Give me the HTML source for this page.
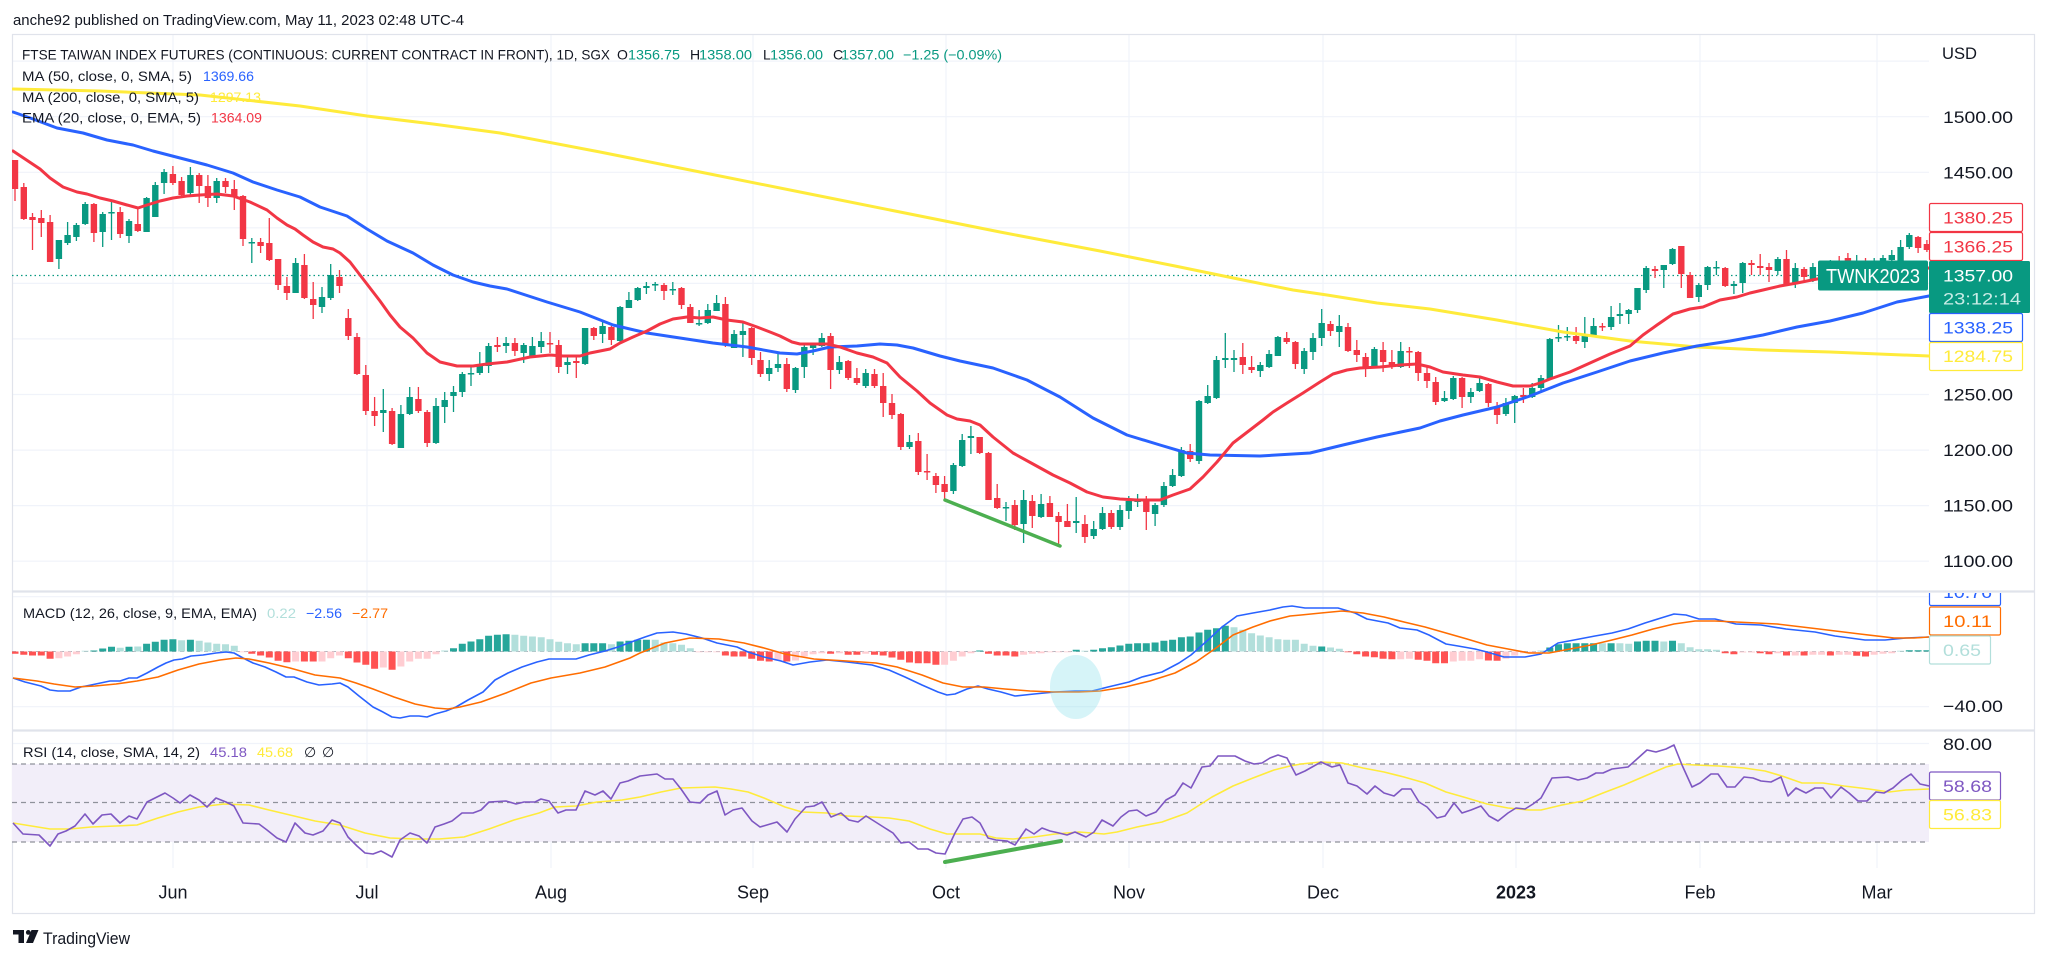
<!DOCTYPE html>
<html><head><meta charset="utf-8"><style>
html,body{margin:0;padding:0;background:#fff;}
svg{display:block;}
text{font-family:"Liberation Sans",Arial,sans-serif;}
</style></head><body>
<svg width="2048" height="959" viewBox="0 0 2048 959" xmlns="http://www.w3.org/2000/svg">
<defs>
<clipPath id="cm"><rect x="12" y="34" width="1917" height="557"/></clipPath>
<clipPath id="cd"><rect x="12" y="592" width="1917" height="138"/></clipPath>
<clipPath id="cr"><rect x="12" y="731" width="1917" height="137"/></clipPath>
<clipPath id="cl"><rect x="1920" y="593" width="120" height="40"/></clipPath>
</defs>
<rect width="2048" height="959" fill="#fff"/>
<text x="13" y="25" font-size="15" fill="#131722" textLength="451" lengthAdjust="spacingAndGlyphs">anche92 published on TradingView.com, May 11, 2023 02:48 UTC-4</text>

<!-- grid -->
<g stroke="#f0f3fa" stroke-width="1.2">
<path d="M12 61.1H1929M12 116.7H1929M12 172.3H1929M12 227.8H1929M12 283.4H1929M12 338.9H1929M12 394.5H1929M12 450.1H1929M12 505.6H1929M12 561.2H1929M12 596.7H1929M12 706.7H1929M12 743.5H1929M12 822H1929"/>
<path d="M173 34V868M367 34V868M551 34V868M753 34V868M946 34V868M1129 34V868M1323 34V868M1516 34V868M1700 34V868M1877 34V868"/>
</g>

<!-- frame -->
<rect x="12.5" y="34.5" width="2022" height="879" fill="none" stroke="#e0e3eb" stroke-width="1.2"/>
<path d="M12 591.5H2035M12 730.5H2035" stroke="#e0e3eb" stroke-width="2.2"/>

<!-- MAIN PANE -->
<g clip-path="url(#cm)">
<path d="M12 275.5H1929" stroke="#089981" stroke-width="1.3" stroke-dasharray="1.5 3"/>
<g fill="none" stroke-linecap="butt">
<path stroke="#089981" stroke-width="1.3" d="M58.9 240V269M67.6 222V245M76.4 223V241M85.2 202V225M102.7 212V247M111.5 201V240M129 219V243M146.6 197V232M155.3 182V217M164.1 169V194M190.4 167V195M216.7 178V203M251.8 238V263M295.6 258V293M322 287V313M330.7 264V300M383.3 389V432M400.9 405V448M409.7 387V415M436 398V444M444.7 392V423M453.5 386V412M462.3 372V397M471 366V386M479.8 352V375M488.6 343V373M506.1 337V353M523.7 343V363M532.4 337V357M541.2 332V353M567.5 357V374M585.1 328V365M602.6 322V343M620.1 306V342M628.9 292V308M637.7 287V301M646.4 282V294M655.2 282V291M672.8 282V295M699.1 310V326M707.8 304V324M716.6 295V311M734.1 330V348M742.9 323V357M769.2 360V381M778 353V372M795.5 367V393M804.3 345V378M813.1 343V355M821.8 333V347M839.4 356V374M865.7 369V388M909.5 435V449M953.4 463V494M962.2 434V467M970.9 426V454M1006 502V521M1023.6 490V543M1041.1 494V518M1076.2 497V533M1093.7 521V539M1102.5 507V530M1120 505V530M1128.8 496V519M1137.6 494V507M1155.1 503V526M1163.9 482V507M1172.6 469V487M1181.4 447V477M1199 400V464M1207.7 385V404M1216.5 356V399M1225.3 333V368M1234 350V372M1260.3 362V377M1269.1 350V368M1277.9 336V356M1304.2 348V374M1313 333V360M1321.7 309V346M1339.3 315V347M1374.4 347V368M1400.7 342V368M1444.5 391V402M1453.3 376V400M1470.8 388V403M1479.6 378V392M1505.9 398V416M1514.7 395V423M1532.2 383V398M1541 375V393M1549.8 338V379M1558.5 325V342M1567.3 327V341M1584.8 317V348M1593.6 318V337M1611.1 306V330M1619.9 303V324M1628.7 309V324M1637.5 288V313M1646.2 266V293M1663.8 265V288M1672.5 248V265M1698.8 283V302M1707.6 266V290M1716.4 261V275M1733.9 281V294M1742.7 262V293M1777.8 257V275M1795.3 263V288M1812.9 263V282M1830.4 260V278M1856.7 255V276M1874.2 258V288M1883 255V270M1891.8 250V266M1900.6 240V262M1909.3 233V249"/>
<path stroke="#089981" stroke-width="6.4" d="M58.9 240V259M67.6 235V243M76.4 225V237M85.2 204V224M102.7 214V232M111.5 212V213.5M129 221V236M146.6 198V232M155.3 185V217M164.1 172V183M190.4 175V193M216.7 181V198M251.8 242V243.5M295.6 263V293M322 297V307M330.7 275V298M383.3 410V413M400.9 414V448M409.7 397V414M436 406V443M444.7 400V407M453.5 392V396M462.3 374V392M471 373V374.5M479.8 366V373M488.6 346V366M506.1 343V346M523.7 345V353M532.4 346V357M541.2 341V347M567.5 362V365M585.1 328V364M602.6 326V334M620.1 307V341M628.9 300V308M637.7 288V300M646.4 286V288M655.2 284V285.5M672.8 289V290.5M699.1 323V324.5M707.8 310V323M716.6 303V311M734.1 334V348M742.9 331V335M769.2 368V374M778 364V368M795.5 368V390M804.3 347V367M813.1 345V348M821.8 338V346M839.4 362V370M865.7 373V386M909.5 442V447M953.4 465V491M962.2 440V466M970.9 436V438M1006 507V508.5M1023.6 500V524M1041.1 504V517M1076.2 521V523M1093.7 529V536M1102.5 513V529M1120 510V527M1128.8 501V511M1137.6 500V502M1155.1 505V514M1163.9 486V505M1172.6 475V486M1181.4 450V476M1199 401V461M1207.7 396V403M1216.5 360V398M1225.3 358V360M1234 358V360M1260.3 365V371M1269.1 354V367M1277.9 337V356M1304.2 351V369M1313 338V352M1321.7 323V338M1339.3 326V332M1374.4 349V367M1400.7 351V367M1444.5 398V401M1453.3 378V399M1470.8 392V397M1479.6 383V391M1505.9 403V414M1514.7 396V403M1532.2 388V397M1541 378V388M1549.8 339V379M1558.5 337V338.5M1567.3 336V337.5M1584.8 336V342M1593.6 326V336M1611.1 317V327M1619.9 314V316M1628.7 310V314M1637.5 288V310M1646.2 268V290M1663.8 265V270M1672.5 249V264M1698.8 285V297M1707.6 267V285M1716.4 267V268.5M1733.9 284V286M1742.7 263V283M1777.8 259V271M1795.3 268V284M1812.9 267V280M1830.4 266V274M1856.7 262V270M1874.2 262V272M1883 258V264M1891.8 255V260M1900.6 247V262M1909.3 235V247"/>
<path stroke="#f23645" stroke-width="1.3" d="M15 160V201M23.8 183V220M32.5 213V250M41.3 210V237M50.1 215V262M93.9 203V242M120.2 207V238M137.8 207V232M172.9 166V185M181.6 177V198M199.2 173V203M207.9 175V207M225.5 178V193M234.3 180V210M243 195V246M260.6 238V253M269.3 218V261M278.1 259V290M286.9 277V300M304.4 254V299M313.2 282V319M339.5 270V293M348.3 309V340M357 333V375M365.8 365V415M374.6 397V426M392.1 408V445M418.4 387V413M427.2 410V447M497.4 337V352M514.9 338V356M550 332V353M558.7 340V373M576.3 355V378M593.8 327V340M611.4 326V345M664 283V300M681.5 287V309M690.3 304V323M725.4 297V347M751.7 327V365M760.5 352V377M786.8 358V392M830.6 333V389M848.2 360V380M856.9 368V385M874.5 369V388M883.2 373V417M892 394V419M900.8 413V450M918.3 433V475M927.1 454V480M935.9 473V493M944.6 476V501M979.7 437V454M988.5 452V500M997.2 484V509M1014.8 500V530M1032.3 495V528M1049.9 496V517M1058.6 512V547M1067.4 504V527M1084.9 515V543M1111.3 510V529M1146.3 496V530M1190.2 444V462M1242.8 343V374M1251.6 356V373M1286.7 332V344M1295.4 341V369M1330.5 321V336M1348 323V352M1356.8 340V362M1365.6 353V377M1383.1 342V372M1391.9 350V369M1409.4 347V368M1418.2 351V381M1427 367V388M1435.7 377V405M1462.1 377V408M1488.4 383V407M1497.1 402V424M1523.4 388V403M1576.1 327V344M1602.4 323V331M1655 266V278M1681.3 246V288M1690.1 272V298M1725.2 267V287M1751.5 260V275M1760.2 254V275M1769 263V282M1786.5 250V285M1804.1 267V282M1821.6 262V280M1839.2 256V275M1847.9 253V272M1865.5 258V278M1918.1 236V253M1926.9 240V252"/>
<path stroke="#f23645" stroke-width="6.4" d="M15 160V189M23.8 187V219M32.5 217V220M41.3 218V223M50.1 222V262M93.9 204V233M120.2 212V234M137.8 224V231M172.9 174V183M181.6 181V195M199.2 175V186M207.9 186V198M225.5 181V187M234.3 189V197M243 196V239M260.6 242V246M269.3 243V260M278.1 259V285M286.9 286V293M304.4 265V298M313.2 299V305M339.5 277V286M348.3 318V336M357 337V374M365.8 375V411M374.6 411V416M392.1 411V444M418.4 399V411M427.2 412V443M497.4 345V347M514.9 343V351M550 343V344.5M558.7 345V367M576.3 361V363M593.8 328V336M611.4 327V340M664 285V291M681.5 288V305M690.3 307V323M725.4 304V344M751.7 328V358M760.5 360V374M786.8 364V389M830.6 336V370M848.2 361V378M856.9 378V383M874.5 374V386M883.2 386V403M892 403V415M900.8 414V447M918.3 441V472M927.1 471V472.5M935.9 476V485M944.6 484V492M979.7 437V453M988.5 453V500M997.2 498V508M1014.8 505V525M1032.3 501V516M1049.9 503V517M1058.6 516V522M1067.4 521V527M1084.9 524V537M1111.3 513V527M1146.3 501V512M1190.2 451V459M1242.8 357V365M1251.6 367V370M1286.7 338V342M1295.4 342V364M1330.5 324V331M1348 327V351M1356.8 350V355M1365.6 357V367M1383.1 350V362M1391.9 362V367M1409.4 351V352.5M1418.2 352V373M1427 373V381M1435.7 382V402M1462.1 378V397M1488.4 384V403M1497.1 407V415M1523.4 395V397M1576.1 336V341M1602.4 326V327.5M1655 269V271M1681.3 246V274M1690.1 275V298M1725.2 268V286M1751.5 263V265M1760.2 266V268M1769 267V270M1786.5 259V284M1804.1 269V277M1821.6 268V276M1839.2 262V270M1847.9 258V266M1865.5 264V272M1918.1 237V248M1926.9 244V250"/>
</g>
<g fill="none" stroke-width="3" stroke-linejoin="round" stroke-linecap="round">
<polyline stroke="#ffeb3b" points="13,89 100,91 200,95 300,106 367,116 433,124 500,133 600,152 700,172 800,192 900,212 1000,232 1100,251 1175,266 1243,280 1293,290 1327,295 1377,303 1430,309 1497,320 1563,332 1630,341 1697,347 1763,350 1830,352 1929,356"/>
<polyline stroke="#2962ff" points="13,112 33,119 57,128 83,133 107,140 133,145 153,151 180,158 207,165 233,173 253,182 277,190 300,197 320,207 347,216 367,229 387,241 413,253 433,265 453,275 473,282 490,286 507,289 547,302 580,312 613,325 647,333 680,338 713,343 747,347 780,353 797,354 813,351 830,347 857,346 880,344 897,345 913,348 940,356 960,361 993,368 1027,380 1060,397 1093,418 1127,435 1160,445 1187,453 1210,455 1260,456 1293,454 1310,453 1343,445 1377,437 1420,428 1440,421 1463,415 1497,407 1530,396 1563,383 1597,372 1630,361 1663,353 1697,346 1730,341 1763,335 1797,327 1830,321 1863,313 1897,302 1929,296"/>
<polyline stroke="#f23645" points="13,151 40,169 50,178 63,187 77,192 87,194 100,198 113,201 127,205 138,208 147,205 160,201 173,198 187,196 200,195 217,194 233,196 250,202 267,210 277,218 287,225 295,229 303,235 313,242 323,247 333,249 340,253 350,262 360,275 370,288 380,301 390,315 400,327 413,338 427,353 440,362 457,366 473,366 487,364 507,362 530,357 550,355 563,356 580,356 590,353 610,349 620,343 633,337 647,331 660,324 673,319 687,317 700,318 713,317 727,320 743,322 757,327 770,332 780,336 792,342 800,344 813,344 827,344 840,347 857,353 873,357 887,363 900,377 917,391 930,403 947,415 957,419 970,421 980,425 993,437 1013,453 1033,464 1053,475 1070,483 1087,492 1103,497 1120,499 1137,500 1160,500 1173,495 1190,489 1203,477 1217,462 1233,443 1250,430 1263,420 1273,412 1287,403 1303,393 1320,382 1333,374 1347,370 1360,368 1380,367 1400,365 1417,364 1430,367 1443,372 1463,375 1480,377 1497,382 1513,386 1530,386 1540,383 1550,379 1570,372 1590,363 1610,354 1630,346 1643,335 1657,325 1673,314 1690,309 1703,307 1720,300 1737,297 1750,293 1763,290 1780,286 1797,283 1817,279 1850,275 1880,272 1900,270 1929,268"/>
</g>
<line x1="945" y1="500" x2="1060" y2="546" stroke="#4caf50" stroke-width="3.5" stroke-linecap="round"/>
</g>
<rect x="1818" y="260.5" width="110" height="30" rx="2" fill="#089981"/>
<text x="1826" y="283" font-size="20" fill="#fff" textLength="94" lengthAdjust="spacingAndGlyphs">TWNK2023</text>

<!-- main legend -->
<text x="22" y="59.5" font-size="14" fill="#131722" textLength="588" lengthAdjust="spacingAndGlyphs">FTSE TAIWAN INDEX FUTURES (CONTINUOUS: CURRENT CONTRACT IN FRONT), 1D, SGX</text>
<text x="617" y="59.5" font-size="14" fill="#131722">O</text>
<text x="628" y="59.5" font-size="14" fill="#089981" textLength="52" lengthAdjust="spacingAndGlyphs">1356.75</text>
<text x="690" y="59.5" font-size="14" fill="#131722">H</text>
<text x="699" y="59.5" font-size="14" fill="#089981" textLength="53" lengthAdjust="spacingAndGlyphs">1358.00</text>
<text x="763" y="59.5" font-size="14" fill="#131722">L</text>
<text x="770" y="59.5" font-size="14" fill="#089981" textLength="53" lengthAdjust="spacingAndGlyphs">1356.00</text>
<text x="833" y="59.5" font-size="14" fill="#131722">C</text>
<text x="841" y="59.5" font-size="14" fill="#089981" textLength="53" lengthAdjust="spacingAndGlyphs">1357.00</text>
<text x="903" y="59.5" font-size="14" fill="#089981" textLength="99" lengthAdjust="spacingAndGlyphs">−1.25 (−0.09%)</text>
<text x="22" y="81" font-size="14" fill="#131722" textLength="170" lengthAdjust="spacingAndGlyphs">MA (50, close, 0, SMA, 5)</text>
<text x="203" y="81" font-size="14" fill="#2962ff" textLength="51" lengthAdjust="spacingAndGlyphs">1369.66</text>
<text x="22" y="102" font-size="14" fill="#131722" textLength="177" lengthAdjust="spacingAndGlyphs">MA (200, close, 0, SMA, 5)</text>
<text x="210" y="102" font-size="14" fill="#ffeb3b" textLength="51" lengthAdjust="spacingAndGlyphs">1297.13</text>
<text x="22" y="122.5" font-size="14" fill="#131722" textLength="179" lengthAdjust="spacingAndGlyphs">EMA (20, close, 0, EMA, 5)</text>
<text x="211" y="122.5" font-size="14" fill="#f23645" textLength="51" lengthAdjust="spacingAndGlyphs">1364.09</text>

<!-- MACD PANE -->
<g clip-path="url(#cd)">
<path d="M12 651.5H1929" stroke="#b2b5be" stroke-width="1" stroke-dasharray="4 4"/>
<g fill="none" stroke-width="7">
<path stroke="#26a69a" d="M93.9 651.5V650.5M102.7 651.5V648.5M111.5 651.5V646.8M129 651.5V646.8M146.6 651.5V643.8M155.3 651.5V641.8M164.1 651.5V639.8M172.9 651.5V639.2M190.4 651.5V639.8M453.5 651.5V648.2M462.3 651.5V643.8M471 651.5V641.5M479.8 651.5V639.2M488.6 651.5V635.8M497.4 651.5V634.8M506.1 651.5V634.2M585.1 651.5V643.2M593.8 651.5V643.2M602.6 651.5V643.2M620.1 651.5V641.5M628.9 651.5V640.8M637.7 651.5V639.8M646.4 651.5V639.8M979.7 651.5V650.5M1076.2 651.5V649.8M1093.7 651.5V649.8M1102.5 651.5V648.2M1111.3 651.5V647.2M1120 651.5V645.5M1128.8 651.5V643.8M1137.6 651.5V643.2M1146.3 651.5V643.2M1155.1 651.5V642.5M1163.9 651.5V640.8M1172.6 651.5V639.8M1181.4 651.5V637.2M1190.2 651.5V636.5M1199 651.5V632.5M1207.7 651.5V629.8M1216.5 651.5V628.2M1225.3 651.5V625.8M1321.7 651.5V646.5M1549.8 651.5V647.5M1558.5 651.5V644.2M1567.3 651.5V643.2M1576.1 651.5V643.2M1584.8 651.5V643.2M1593.6 651.5V643.2M1611.1 651.5V643.2M1637.5 651.5V641.5M1646.2 651.5V640.8M1655 651.5V640.8M1672.5 651.5V640.8M1909.3 651.5V650.2M1918.1 651.5V650.2M1926.9 651.5V650.2"/>
<path stroke="#b2dfdb" d="M85.2 651.5V650.8M120.2 651.5V647.8M137.8 651.5V646.5M181.6 651.5V640.2M199.2 651.5V640.8M207.9 651.5V642.5M216.7 651.5V643.8M225.5 651.5V644.2M234.3 651.5V645.8M444.7 651.5V650.5M514.9 651.5V634.8M523.7 651.5V635.8M532.4 651.5V636.5M541.2 651.5V637.2M550 651.5V639.2M558.7 651.5V641.8M567.5 651.5V643.2M576.3 651.5V644.2M611.4 651.5V644.2M655.2 651.5V639.8M664 651.5V642.5M672.8 651.5V643.2M681.5 651.5V644.8M690.3 651.5V648.2M1084.9 651.5V650.8M1234 651.5V627.2M1242.8 651.5V629.8M1251.6 651.5V633.2M1260.3 651.5V635.5M1269.1 651.5V637.2M1277.9 651.5V639.2M1286.7 651.5V639.8M1295.4 651.5V639.8M1304.2 651.5V643.8M1313 651.5V645.8M1330.5 651.5V647.5M1339.3 651.5V648.8M1541 651.5V650.5M1602.4 651.5V643.2M1619.9 651.5V643.2M1628.7 651.5V643.8M1663.8 651.5V641.5M1681.3 651.5V643.2M1690.1 651.5V647.2M1698.8 651.5V649.2M1707.6 651.5V649.2M1716.4 651.5V649.8M1900.6 651.5V650.8"/>
<path stroke="#ff5252" d="M15 651.5V653.8M23.8 651.5V654.8M32.5 651.5V655.5M41.3 651.5V655.5M50.1 651.5V658.8M251.8 651.5V653.8M260.6 651.5V655.5M269.3 651.5V657.5M278.1 651.5V660.8M286.9 651.5V662.2M304.4 651.5V661.5M313.2 651.5V661.5M348.3 651.5V658.2M357 651.5V662.5M365.8 651.5V664.8M374.6 651.5V668.8M392.1 651.5V669.8M725.4 651.5V655.5M734.1 651.5V656.5M742.9 651.5V656.5M751.7 651.5V658.8M760.5 651.5V660.8M769.2 651.5V661.5M786.8 651.5V661.5M830.6 651.5V653.8M848.2 651.5V654.8M856.9 651.5V654.8M874.5 651.5V654.8M883.2 651.5V655.5M892 651.5V657.5M900.8 651.5V659.8M909.5 651.5V662.5M918.3 651.5V663.2M927.1 651.5V663.2M935.9 651.5V664.8M988.5 651.5V653.8M997.2 651.5V655.5M1006 651.5V655.5M1014.8 651.5V656.5M1348 651.5V652.2M1356.8 651.5V654.2M1365.6 651.5V656.5M1374.4 651.5V657.2M1383.1 651.5V658.8M1391.9 651.5V659.2M1418.2 651.5V659.8M1427 651.5V660.8M1435.7 651.5V663.2M1444.5 651.5V663.2M1488.4 651.5V660.5M1497.1 651.5V660.8M1725.2 651.5V653.2M1733.9 651.5V654.2M1760.2 651.5V653.2M1769 651.5V654.2M1786.5 651.5V655.5M1804.1 651.5V655.5M1830.4 651.5V655.5M1856.7 651.5V655.8M1865.5 651.5V656.5"/>
<path stroke="#ffcdd2" d="M58.9 651.5V658.2M67.6 651.5V656.5M76.4 651.5V654.2M243 651.5V652.2M295.6 651.5V661.5M322 651.5V661.5M330.7 651.5V658.2M339.5 651.5V655.5M383.3 651.5V667.5M400.9 651.5V666.5M409.7 651.5V661.5M418.4 651.5V658.8M427.2 651.5V658.8M436 651.5V654.2M699.1 651.5V652.2M707.8 651.5V652.2M716.6 651.5V652.2M778 651.5V660.8M795.5 651.5V660.5M804.3 651.5V656.5M813.1 651.5V654.2M821.8 651.5V653.2M839.4 651.5V653.2M865.7 651.5V653.8M944.6 651.5V664.8M953.4 651.5V660.8M962.2 651.5V656.5M970.9 651.5V653.2M1023.6 651.5V654.8M1032.3 651.5V653.8M1041.1 651.5V653.2M1049.9 651.5V652.2M1058.6 651.5V652.2M1067.4 651.5V652.2M1400.7 651.5V659.2M1409.4 651.5V658.8M1453.3 651.5V661.5M1462.1 651.5V660.8M1470.8 651.5V660.8M1479.6 651.5V659.2M1505.9 651.5V658.8M1514.7 651.5V655.5M1523.4 651.5V653.2M1532.2 651.5V652.5M1742.7 651.5V652.5M1751.5 651.5V652.5M1777.8 651.5V653.2M1795.3 651.5V655.5M1812.9 651.5V654.8M1821.6 651.5V654.8M1839.2 651.5V654.8M1847.9 651.5V654.8M1874.2 651.5V654.8M1883 651.5V653.8M1891.8 651.5V653.2"/>
</g>
<g fill="none" stroke-width="1.6" stroke-linejoin="round">
<polyline stroke="#2962ff" points="13,678 25,682 41,686 50,690 58,691 70,691 81,687 91,685 110,681 120,681 129,678 137,678 147,673 158,667 166,663 174,660 182,659 191,656 203,655 216,653 226,652 234,653 243,658 253,663 265,667 276,672 286,677 294,677 307,682 319,685 332,684 340,683 348,687 359,696 373,707 381,711 392,717 400,718 410,716 419,716 427,717 435,714 446,711 456,707 468,700 483,692 495,680 508,673 522,667 537,662 549,659 564,659 576,659 589,655 605,651 618,647 634,641 645,637 657,633 673,632 686,634 702,638 717,643 737,647 748,652 764,657 781,661 793,665 810,662 827,660 847,662 872,665 889,670 905,677 922,685 938,692 947,695 955,694 967,689 978,686 988,689 1001,692 1015,696 1034,694 1055,692 1075,691 1092,691 1108,687 1129,682 1142,677 1162,672 1179,663 1191,655 1208,640 1222,627 1237,616 1253,613 1270,610 1283,607 1292,606 1305,608 1321,608 1338,608 1355,613 1367,619 1388,623 1400,628 1417,630 1429,635 1446,644 1458,646 1475,649 1487,652 1504,657 1525,657 1541,654 1558,643 1574,640 1595,636 1612,633 1628,629 1645,623 1661,618 1674,614 1686,615 1699,619 1715,619 1736,624 1761,625 1786,629 1815,632 1835,636 1865,640 1885,640 1906,638 1929,637"/>
<polyline stroke="#ff6d00" points="13,678 37,681 54,684 75,687 95,686 116,684 137,681 158,677 178,670 199,664 220,660 236,658 249,659 269,663 290,668 315,675 340,678 356,683 373,689 394,697 415,704 435,708 448,709 460,707 481,702 506,693 531,683 551,678 580,673 605,667 630,658 640,653 650,649 665,643 690,638 719,639 744,643 764,648 785,654 814,659 847,661 876,663 897,667 922,675 943,683 963,687 984,687 1005,689 1030,691 1055,692 1079,692 1100,691 1125,687 1150,681 1175,673 1196,662 1216,648 1233,635 1253,627 1270,621 1290,616 1301,615 1321,613 1342,611 1363,613 1384,617 1404,622 1425,627 1446,633 1467,639 1487,645 1508,649 1529,653 1549,653 1570,649 1591,645 1612,640 1632,635 1653,629 1674,624 1695,621 1715,621 1736,622 1777,624 1819,629 1860,634 1894,638 1914,638 1929,637"/>
</g>
<ellipse cx="1076" cy="687" rx="26" ry="32" fill="#80deea" opacity="0.32"/>
</g>
<text x="23" y="618" font-size="14" fill="#131722" textLength="234" lengthAdjust="spacingAndGlyphs">MACD (12, 26, close, 9, EMA, EMA)</text>
<text x="267" y="618" font-size="14" fill="#b2dfdb" textLength="29" lengthAdjust="spacingAndGlyphs">0.22</text>
<text x="306" y="618" font-size="14" fill="#2962ff" textLength="36" lengthAdjust="spacingAndGlyphs">−2.56</text>
<text x="352" y="618" font-size="14" fill="#ff6d00" textLength="36" lengthAdjust="spacingAndGlyphs">−2.77</text>

<!-- RSI PANE -->
<g clip-path="url(#cr)">
<rect x="12" y="764" width="1917" height="78" fill="#f2eef9"/>
<path d="M12 764H1929M12 802.5H1929M12 842H1929" stroke="#8f929b" stroke-width="1.3" stroke-dasharray="5 4"/>
<g fill="none" stroke-width="1.6" stroke-linejoin="round">
<polyline stroke="#ffeb3b" points="13,823 50,829 70,829 91,827 116,826 137,825 158,818 178,812 199,807 224,804 249,805 269,810 290,815 315,821 340,825 365,833 390,838 415,839 439,839 464,837 489,829 514,820 539,813 555,807 576,806 597,802 622,800 640,797 661,792 681,788 715,787 731,789 748,792 764,798 785,807 802,812 827,813 847,816 872,817 889,818 909,821 930,829 947,834 980,834 996,838 1013,839 1034,837 1055,834 1079,832 1104,834 1117,832 1137,827 1162,822 1187,813 1212,797 1233,786 1253,778 1274,770 1290,766 1301,764 1321,762 1342,763 1363,768 1384,772 1404,777 1425,783 1446,792 1467,798 1487,804 1508,808 1529,810 1541,810 1562,805 1583,801 1603,793 1624,785 1645,776 1666,767 1678,764 1695,765 1719,766 1744,768 1765,771 1782,776 1802,783 1823,783 1844,786 1869,789 1889,792 1906,790 1929,789"/>
<polyline stroke="#7e57c2" points="13,823 23,834 39,835 50,846 58,834 66,831 75,826 85,814 93,824 102,815 111,814 120,823 129,816 137,819 147,802 155,798 165,793 173,798 180,803 190,795 199,800 207,807 216,798 226,802 234,806 243,823 259,824 267,830 277,838 286,842 295,823 305,833 313,835 323,831 332,820 340,823 348,837 357,846 365,853 373,854 381,851 392,857 400,840 410,833 419,836 427,843 435,827 444,824 452,821 462,813 473,813 481,810 489,802 506,801 516,804 524,802 535,802 541,799 549,801 558,813 566,810 576,810 585,791 595,795 603,791 611,799 620,783 628,781 640,776 657,774 665,779 673,779 681,789 690,802 700,803 708,795 717,791 725,815 733,810 742,808 752,821 760,827 777,822 787,832 795,819 806,807 814,806 822,802 831,817 841,813 849,820 858,822 866,816 874,821 885,828 893,833 901,843 909,842 918,849 928,849 936,853 945,854 955,833 963,819 972,817 980,823 988,838 996,840 1007,841 1015,845 1026,829 1034,834 1042,828 1050,831 1059,833 1067,835 1075,832 1086,837 1094,832 1102,820 1113,826 1121,817 1129,811 1137,810 1146,816 1156,812 1166,800 1175,795 1183,783 1191,788 1202,767 1210,766 1218,756 1235,756 1245,761 1254,764 1262,763 1270,758 1278,755 1287,758 1296,775 1305,771 1321,762 1332,767 1340,765 1348,783 1357,786 1367,794 1375,786 1384,793 1394,796 1402,789 1411,789 1419,802 1427,807 1437,818 1445,816 1454,803 1462,813 1471,810 1481,806 1489,816 1498,821 1508,813 1516,808 1525,809 1533,804 1541,798 1552,778 1568,777 1578,780 1587,778 1596,773 1603,773 1612,769 1628,767 1637,759 1647,750 1656,752 1666,749 1674,745 1682,765 1692,787 1700,783 1711,774 1718,774 1727,787 1735,787 1744,777 1753,778 1761,781 1771,782 1781,777 1788,796 1796,788 1806,793 1815,788 1823,788 1831,798 1841,787 1849,793 1858,801 1867,801 1876,792 1884,793 1893,788 1902,780 1911,774 1920,784 1929,786"/>
</g>
<line x1="945" y1="862" x2="1061" y2="841" stroke="#4caf50" stroke-width="4" stroke-linecap="round"/>
</g>
<text x="23" y="757" font-size="14" fill="#131722" textLength="177" lengthAdjust="spacingAndGlyphs">RSI (14, close, SMA, 14, 2)</text>
<text x="210" y="757" font-size="14" fill="#7e57c2" textLength="37" lengthAdjust="spacingAndGlyphs">45.18</text>
<text x="257" y="757" font-size="14" fill="#ffeb3b" textLength="36" lengthAdjust="spacingAndGlyphs">45.68</text>
<text x="304" y="757" font-size="14" fill="#131722">∅</text>
<text x="322" y="757" font-size="14" fill="#131722">∅</text>

<!-- PRICE AXIS -->
<text x="1942" y="59" font-size="17" fill="#131722" textLength="35" lengthAdjust="spacingAndGlyphs">USD</text>
<g font-size="17" fill="#131722">
<text x="1943" y="123" textLength="70" lengthAdjust="spacingAndGlyphs">1500.00</text>
<text x="1943" y="178.5" textLength="70" lengthAdjust="spacingAndGlyphs">1450.00</text>
<text x="1943" y="400.5" textLength="70" lengthAdjust="spacingAndGlyphs">1250.00</text>
<text x="1943" y="456" textLength="70" lengthAdjust="spacingAndGlyphs">1200.00</text>
<text x="1943" y="511.5" textLength="70" lengthAdjust="spacingAndGlyphs">1150.00</text>
<text x="1943" y="567" textLength="70" lengthAdjust="spacingAndGlyphs">1100.00</text>
<text x="1943" y="712" textLength="60" lengthAdjust="spacingAndGlyphs">−40.00</text>
<text x="1943" y="750" textLength="49" lengthAdjust="spacingAndGlyphs">80.00</text>
</g>
<rect x="1929.5" y="203.5" width="93" height="28" rx="1.5" fill="#fff" stroke="#f23645" stroke-width="1.2"/>
<text x="1943" y="223.5" font-size="17" fill="#f23645" textLength="70" lengthAdjust="spacingAndGlyphs">1380.25</text>
<rect x="1929.5" y="232.5" width="93" height="28" rx="1.5" fill="#fff" stroke="#f23645" stroke-width="1.2"/>
<text x="1943" y="252.5" font-size="17" fill="#f23645" textLength="70" lengthAdjust="spacingAndGlyphs">1366.25</text>
<rect x="1929" y="261" width="101" height="52" rx="1.5" fill="#089981"/>
<text x="1943" y="281.5" font-size="17" fill="#fff" textLength="70" lengthAdjust="spacingAndGlyphs">1357.00</text>
<text x="1943" y="304.5" font-size="17" fill="#c8ece6" textLength="78" lengthAdjust="spacingAndGlyphs">23:12:14</text>
<rect x="1929.5" y="313.5" width="93" height="28" rx="1.5" fill="#fff" stroke="#2962ff" stroke-width="1.2"/>
<text x="1943" y="333.5" font-size="17" fill="#2962ff" textLength="70" lengthAdjust="spacingAndGlyphs">1338.25</text>
<rect x="1929.5" y="342.5" width="93" height="28" rx="1.5" fill="#fff" stroke="#ffeb3b" stroke-width="1.2"/>
<text x="1943" y="362" font-size="17" fill="#ffeb3b" textLength="70" lengthAdjust="spacingAndGlyphs">1284.75</text>

<g clip-path="url(#cl)">
<rect x="1929.5" y="578.5" width="71" height="27" rx="1.5" fill="#fff" stroke="#2962ff" stroke-width="1.2"/>
<text x="1943" y="598" font-size="17" fill="#2962ff" textLength="49" lengthAdjust="spacingAndGlyphs">10.76</text>
</g>
<rect x="1929.5" y="607" width="71" height="28" rx="1.5" fill="#fff" stroke="#ff6d00" stroke-width="1.2"/>
<text x="1943" y="627" font-size="17" fill="#ff6d00" textLength="49" lengthAdjust="spacingAndGlyphs">10.11</text>
<rect x="1929.5" y="636" width="61" height="28" rx="1.5" fill="#fff" stroke="#b2dfdb" stroke-width="1.2"/>
<text x="1943" y="656" font-size="17" fill="#b2dfdb" textLength="38" lengthAdjust="spacingAndGlyphs">0.65</text>
<rect x="1929.5" y="772" width="71" height="28" rx="1.5" fill="#fff" stroke="#7e57c2" stroke-width="1.2"/>
<text x="1943" y="792" font-size="17" fill="#7e57c2" textLength="49" lengthAdjust="spacingAndGlyphs">58.68</text>
<rect x="1929.5" y="800.5" width="71" height="28" rx="1.5" fill="#fff" stroke="#ffeb3b" stroke-width="1.2"/>
<text x="1943" y="820.5" font-size="17" fill="#ffeb3b" textLength="49" lengthAdjust="spacingAndGlyphs">56.83</text>

<!-- TIME AXIS -->
<g font-size="18" fill="#131722" text-anchor="middle">
<text x="173" y="898.5">Jun</text>
<text x="367" y="898.5">Jul</text>
<text x="551" y="898.5">Aug</text>
<text x="753" y="898.5">Sep</text>
<text x="946" y="898.5">Oct</text>
<text x="1129" y="898.5">Nov</text>
<text x="1323" y="898.5">Dec</text>
<text x="1516" y="898.5" font-weight="bold">2023</text>
<text x="1700" y="898.5">Feb</text>
<text x="1877" y="898.5">Mar</text>
</g>

<!-- logo -->
<g fill="#131722">
<rect x="13" y="930" width="11" height="4.5"/>
<rect x="18.5" y="930" width="5.5" height="13"/>
<circle cx="28.3" cy="932.4" r="2.4"/>
<polygon points="31.5,930 38.5,930 33,943 26,943"/>
</g>
<text x="43" y="944" font-size="17" fill="#131722" textLength="87" lengthAdjust="spacingAndGlyphs">TradingView</text>
</svg>
</body></html>
